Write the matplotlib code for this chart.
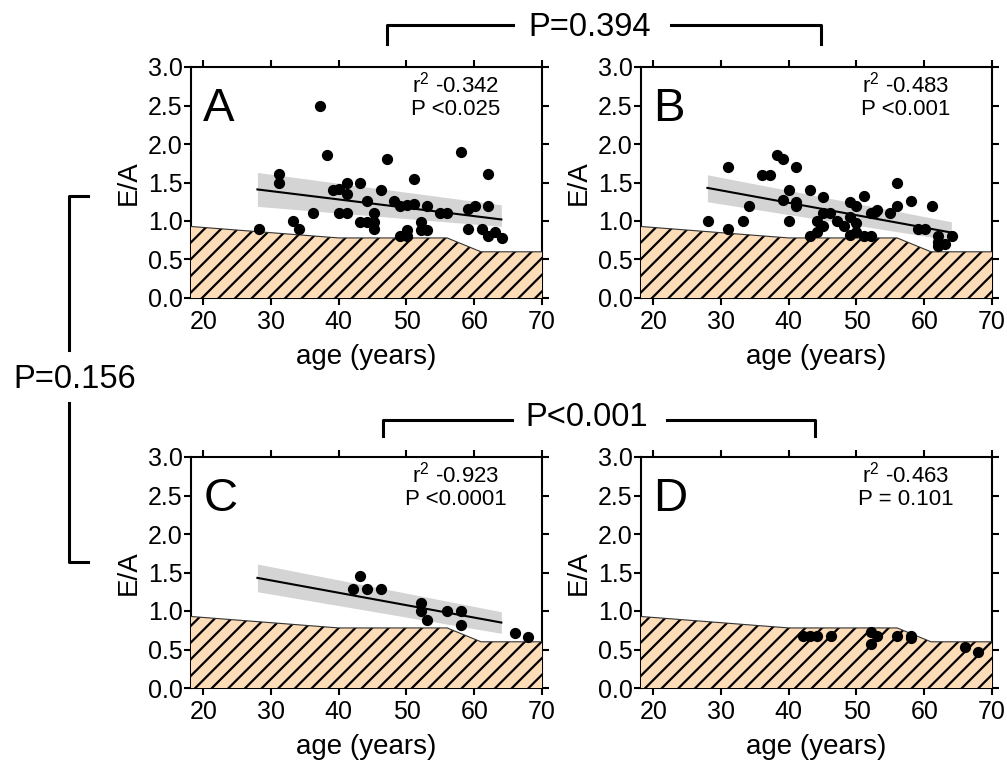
import matplotlib
matplotlib.use('Agg')
import matplotlib.pyplot as plt
from matplotlib.lines import Line2D

plt.rcParams['font.family'] = ['Liberation Sans', 'DejaVu Sans']
plt.rcParams['mathtext.fontset'] = 'custom'
plt.rcParams['mathtext.rm'] = 'Liberation Sans'
plt.rcParams['hatch.linewidth'] = 1.6

# --- dane ---
# dolna granica normy (obszar zakreskowany)
norm_age = [18, 40, 56, 61, 70]
norm_ea = [0.93, 0.78, 0.78, 0.60, 0.60]

age_a = [28.2, 31.2, 31.2, 33.2, 34.2, 36.2, 37.2, 38.2, 39.2, 40.1, 41.2, 41.2, 40.1, 41.2,
         43.2, 43.2, 44.2, 45.2, 44.2, 45.2, 45.2, 46.2, 47.1, 48.1, 49.1, 49.1, 50.1, 50.1,
         50.1, 51.1, 51.1, 52.1, 52.1, 53.1, 53.1, 55.0, 56.0, 58.1, 59.1, 59.1, 60.1, 61.1,
         62.1, 62.1, 62.1, 63.1, 64.1]
ea_a = [0.89, 1.61, 1.50, 1.00, 0.89, 1.10, 2.50, 1.86, 1.40, 1.41, 1.50, 1.35, 1.10, 1.10,
        1.50, 0.99, 1.26, 1.10, 0.99, 0.99, 0.89, 1.40, 1.80, 1.26, 1.20, 0.80, 0.88, 0.80,
        1.21, 1.55, 1.22, 0.99, 0.88, 1.19, 0.88, 1.10, 1.10, 1.90, 1.16, 0.89, 1.20, 0.89,
        1.61, 1.19, 0.80, 0.86, 0.78]

age_b = [28.1, 31.1, 31.1, 33.2, 34.2, 36.1, 37.2, 38.2, 39.2, 39.2, 40.1, 40.1, 41.1, 41.1,
         41.1, 43.1, 43.1, 44.1, 44.1, 45.1, 45.1, 45.1, 46.1, 47.1, 48.1, 49.0, 49.0, 49.0,
         50.0, 50.0, 50.0, 51.1, 51.1, 52.1, 52.1, 53.1, 55.0, 56.0, 56.0, 58.1, 59.1, 60.1,
         61.1, 62.1, 62.1, 63.1, 64.1, 62.1, 52.8]
ea_b = [1.00, 1.70, 0.89, 1.00, 1.20, 1.60, 1.60, 1.86, 1.80, 1.27, 1.40, 1.00, 1.70, 1.25,
        1.20, 1.40, 0.80, 1.00, 0.86, 1.31, 1.10, 0.93, 1.10, 1.00, 0.93, 1.25, 1.05, 0.82,
        1.20, 0.97, 0.86, 1.33, 0.80, 1.10, 0.81, 1.14, 1.10, 1.50, 1.20, 1.26, 0.89, 0.89,
        1.20, 0.80, 0.67, 0.70, 0.80, 0.73, 1.12]

age_c = [42.1, 43.1, 44.2, 46.2, 52.1, 52.1, 53.1, 56.0, 58.1, 58.1, 66.0, 68.0]
ea_c = [1.29, 1.45, 1.29, 1.29, 1.10, 1.00, 0.88, 1.00, 1.00, 0.82, 0.71, 0.66]

age_d = [42.1, 43.1, 44.2, 46.2, 52.1, 52.1, 53.1, 56.0, 58.1, 58.1, 66.0, 68.0]
ea_d = [0.67, 0.67, 0.67, 0.67, 0.73, 0.57, 0.67, 0.68, 0.67, 0.65, 0.53, 0.47]

# regresja: linia i pasmo ufności na końcach (28 i 64 lata)
fit_age = [28, 64]
fit_a = [1.41, 1.02]
lo_a = [1.19, 0.93]
hi_a = [1.63, 1.21]
fit_b = [1.43, 0.85]
lo_b = [1.25, 0.75]
hi_b = [1.60, 0.99]
fit_c = [1.43, 0.85]
lo_c = [1.25, 0.71]
hi_c = [1.61, 0.99]

panels = [
    ('A', age_a, ea_a, (fit_a, lo_a, hi_a), ('r$^2$ -0.342', 'P <0.025')),
    ('B', age_b, ea_b, (fit_b, lo_b, hi_b), ('r$^2$ -0.483', 'P <0.001')),
    ('C', age_c, ea_c, (fit_c, lo_c, hi_c), ('r$^2$ -0.923', 'P <0.0001')),
    ('D', age_d, ea_d, None, ('r$^2$ -0.463', 'P = 0.101')),
]

W, H = 1007, 764
fig = plt.figure(figsize=(W / 100, H / 100), dpi=100)

# pozycje osi w pikselach: lewa, góra, prawa, dół
boxes = [(191, 67, 542, 298), (641, 67, 992, 298),
         (191, 457, 542, 688), (641, 457, 992, 688)]

for (letter, ages, vals, fit, stat), (l, t, r, b) in zip(panels, boxes):
    ax = fig.add_axes([l / W, 1 - b / H, (r - l) / W, (b - t) / H])
    ax.fill_between(norm_age, 0, norm_ea, facecolor='#fddcb8', edgecolor='black',
                    hatch='//', linewidth=0, zorder=2.6)
    ax.plot(norm_age, norm_ea, color='#333333', lw=0.8, zorder=2.7)
    if fit is not None:
        f, lo, hi = fit
        ax.fill_between(fit_age, lo, hi, color='#d4d4d4', lw=0, zorder=1.5)
        ax.plot(fit_age, f, color='black', lw=1.5, zorder=2)
    ax.scatter(ages, vals, s=50, color='black', zorder=4, clip_on=False)
    ax.set_xlim(18.2, 70)
    ax.set_ylim(0, 3)
    ax.set_xticks([20, 30, 40, 50, 60, 70])
    ax.set_yticks([0, 0.5, 1.0, 1.5, 2.0, 2.5, 3.0])
    ax.set_yticklabels(['%.1f' % v for v in ax.get_yticks()])
    ax.tick_params(direction='out', length=5, width=1.5, labelsize=18,
                   top=True, right=True, pad=1)
    ax.tick_params(axis='x', pad=3.5)
    for s in ax.spines.values():
        s.set_linewidth(1.5)
    ax.set_xlabel('age (years)', fontsize=20, labelpad=7)
    ax.set_ylabel('E/A', fontsize=20, labelpad=4)
    ax.text(0.035, 0.915, letter, transform=ax.transAxes, fontsize=34, va='top', ha='left')
    ax.text(0.755, 0.922, stat[0], transform=ax.transAxes, fontsize=16,
            va='center', ha='center')
    ax.text(0.755, 0.814, stat[1], transform=ax.transAxes, fontsize=16,
            va='center', ha='center')


def px(x, y):
    return x / W, 1 - y / H


def line(xs, ys):
    fx = [x / W for x in xs]
    fy = [1 - y / H for y in ys]
    fig.add_artist(Line2D(fx, fy, color='black', lw=2.2, transform=fig.transFigure))


# klamra górna
line([387, 387, 513], [44, 25, 25])
line([671, 821, 821], [25, 25, 44])
fig.text(*px(590, 27), 'P=0.394', fontsize=23.5, ha='center', va='center')
# klamra środkowa
line([383, 383, 512], [436, 420, 420])
line([667, 815, 815], [420, 420, 436])
fig.text(*px(587, 418), 'P<0.001', fontsize=23.5, ha='center', va='center')
# klamra lewa
line([88, 69, 69], [196, 196, 350])
line([69, 69, 88], [403, 562, 562])
fig.text(*px(75, 379), 'P=0.156', fontsize=23.5, ha='center', va='center')

fig.savefig('out.png', dpi=100)
